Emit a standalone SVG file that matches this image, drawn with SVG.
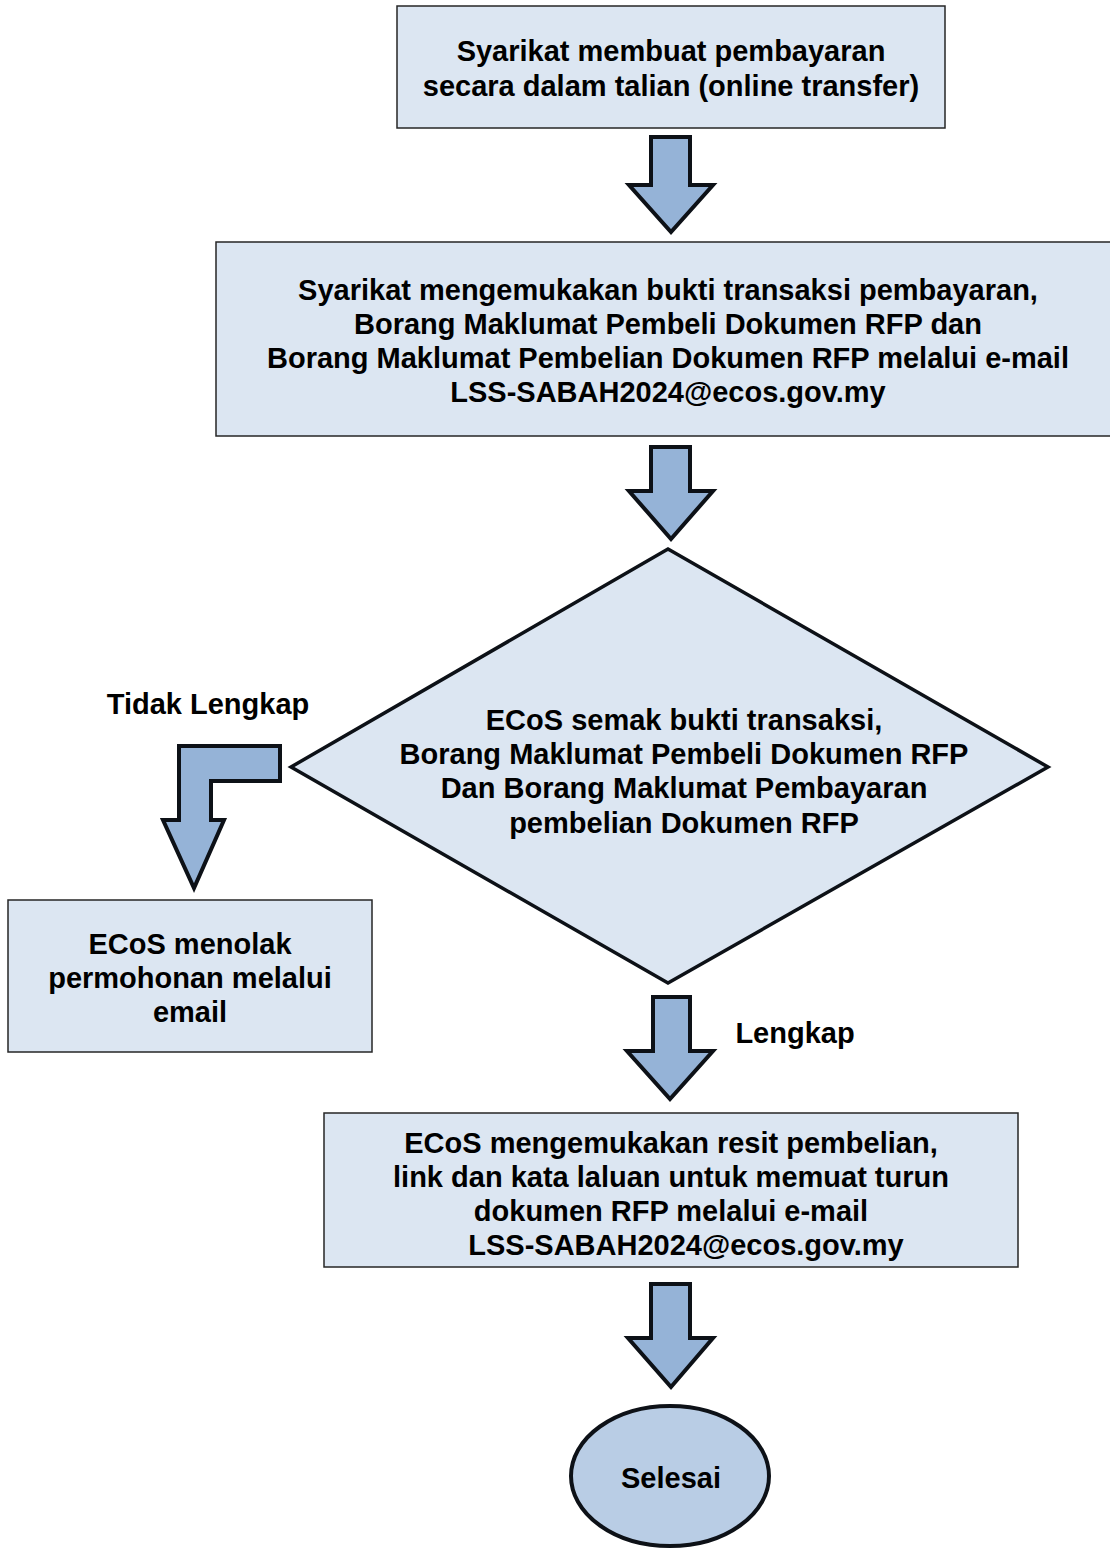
<svg xmlns="http://www.w3.org/2000/svg" width="1110" height="1551" viewBox="0 0 1110 1551">
<style>
.box{fill:#dce6f2;stroke:#262626;stroke-width:1.5}
.arr{fill:#95b3d7;stroke:#0d1117;stroke-width:4;stroke-linejoin:miter}
.dia{fill:#dce6f2;stroke:#0d1117;stroke-width:3.5;stroke-linejoin:miter}
.ell{fill:#b9cde5;stroke:#0d1117;stroke-width:4}
text{font-family:"Liberation Sans",Arial,sans-serif;font-weight:bold;font-size:29px;fill:#000;text-anchor:middle}
</style>
<rect width="1110" height="1551" fill="#fff"/>
<g id="connectors">
<polygon class="arr" points="651,137 690,137 690,185 713,185 671,232 629,185 651,185"/>
<polygon class="arr" points="651,447 690,447 690,491 713,491 671,539 629,491 651,491"/>
<polygon class="arr" points="653,997 690,997 690,1051 713,1051 670,1099 627,1051 653,1051"/>
<polygon class="arr" points="651,1284 690,1284 690,1338 713,1338 671,1387 628,1338 651,1338"/>
<polygon class="arr" points="280,746 280,781 211,781 211,820 224,820 194,888 163,820 179,820 179,746"/>
<text x="208" y="714">Tidak Lengkap</text>
<text x="795" y="1043">Lengkap</text>
</g>
<g id="node1">
<rect class="box" x="397" y="6" width="548" height="122"/>
<text x="671" y="61">Syarikat membuat pembayaran</text>
<text x="671" y="96">secara dalam talian (online transfer)</text>
</g>
<g id="node2">
<rect class="box" x="216" y="242" width="895" height="194"/>
<text x="668" y="300">Syarikat mengemukakan bukti transaksi pembayaran,</text>
<text x="668" y="334">Borang Maklumat Pembeli Dokumen RFP dan</text>
<text x="668" y="368">Borang Maklumat Pembelian Dokumen RFP melalui e-mail</text>
<text x="668" y="402">LSS-SABAH2024@ecos.gov.my</text>
</g>
<g id="node3">
<polygon class="dia" points="668,549 1048,767 668,983 291,767"/>
<text x="684" y="730">ECoS semak bukti transaksi,</text>
<text x="684" y="764">Borang Maklumat Pembeli Dokumen RFP</text>
<text x="684" y="798">Dan Borang Maklumat Pembayaran</text>
<text x="684" y="833">pembelian Dokumen RFP</text>
</g>
<g id="node4">
<rect class="box" x="8" y="900" width="364" height="152"/>
<text x="190" y="954">ECoS menolak</text>
<text x="190" y="988">permohonan melalui</text>
<text x="190" y="1022">email</text>
</g>
<g id="node5">
<rect class="box" x="324" y="1113" width="694" height="154"/>
<text x="671" y="1153">ECoS mengemukakan resit pembelian,</text>
<text x="671" y="1187">link dan kata laluan untuk memuat turun</text>
<text x="671" y="1221">dokumen RFP melalui e-mail</text>
<text x="686" y="1255">LSS-SABAH2024@ecos.gov.my</text>
</g>
<g id="node6">
<ellipse class="ell" cx="670" cy="1476" rx="99" ry="70"/>
<text x="671" y="1488">Selesai</text>
</g>
</svg>
